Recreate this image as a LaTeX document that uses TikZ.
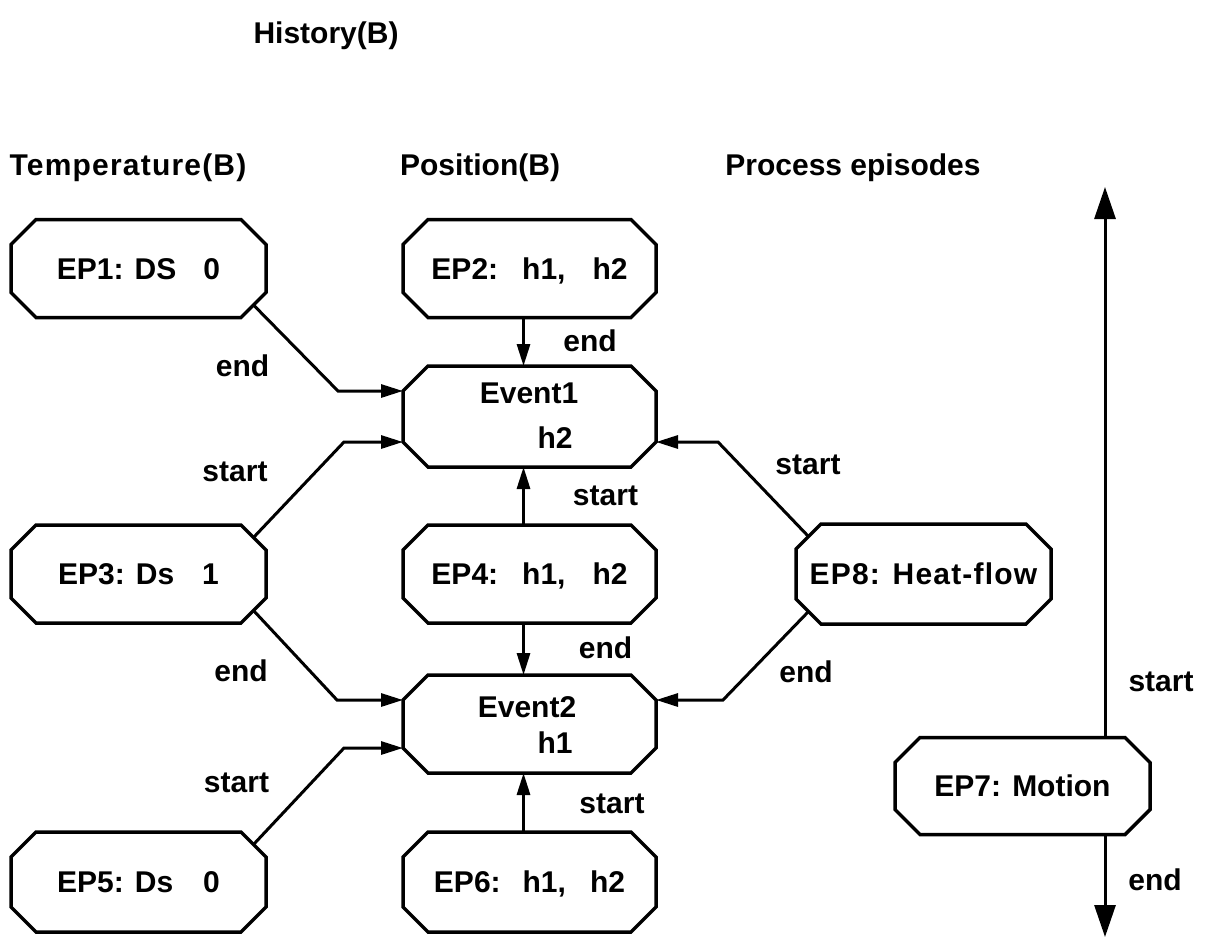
\documentclass[tikz,border=0pt]{standalone}
\usepackage{fontspec}
\setmainfont{Liberation Sans}
\newfontfamily\widefont{Liberation Sans}[LetterSpace=4]
\usetikzlibrary{arrows.meta,calc}
\newcommand\drawoct[1]{%
  \draw[boxline] ($(#1.north west)+(25,0)$) -- ($(#1.north east)+(-25,0)$)
    -- ($(#1.north east)+(0,25)$) -- ($(#1.south east)+(0,-25)$)
    -- ($(#1.south east)+(-25,0)$) -- ($(#1.south west)+(25,0)$)
    -- ($(#1.south west)+(0,-25)$) -- ($(#1.north west)+(0,25)$) -- cycle;}
\tikzset{
  txt/.style={font=\bfseries\fontsize{30}{36}\selectfont, inner sep=0pt, outer sep=0pt,
    text height=21.5pt, text depth=0pt},
  ebox/.style={txt, minimum width=255pt, minimum height=98pt},
  mbox/.style={txt, minimum width=253pt, minimum height=98pt},
  boxline/.style={line width=3.5pt, line join=miter},
  conn/.style={line width=3pt, -{Triangle[length=22pt,width=13pt]}},
  bigarrow/.style={line width=3pt, -{Triangle[length=32pt,width=21pt]}}
}
\begin{document}
\begin{tikzpicture}[x=1pt,y=-1pt]
\useasboundingbox (0,0) rectangle (1212,942);
% titles
\node[txt] (hist) at (326,33) {History(B)};
\node[txt] (ttemp) at (128,165) {\widefont Temperature(B)};
\node[txt] (tpos) at (480,165) {Position(B)};
\node[txt] (tproc) at (853,165) {Process episodes};
% boxes
\node[ebox] (ep1) at (138.5,268.5) {EP1: DS\hspace{27pt}0};
\node[mbox] (ep2) at (529.5,268.5) {EP2:\hspace{24pt}h1,\hspace{27pt}h2};
\node[mbox, minimum height=101pt] (ev1) at (529.5,416.5) {};
\node[ebox] (ep3) at (138.5,574) {EP3: Ds\hspace{28pt}1};
\node[mbox] (ep4) at (529.5,574) {EP4:\hspace{24pt}h1,\hspace{27pt}h2};
\node[mbox] (ev2) at (529.5,724) {};
\node[ebox, minimum height=100pt] (ep5) at (138.5,882) {EP5: Ds\hspace{30pt}0};
\node[mbox, minimum height=100pt] (ep6) at (529.5,882) {EP6:\hspace{22pt}h1,\hspace{24pt}h2};
\node[ebox, minimum height=100pt] (ep8) at (923.5,574) {\widefont EP8: Heat-flow};
\node[ebox, minimum height=97pt] (ep7) at (1022.5,786) {EP7: Motion};
% event texts
\node[txt] (ev1a) at (529,393) {Event1};
\node[txt] (ev1b) at (555,438) {h2};
\node[txt] (ev2a) at (527,707) {Event2};
\node[txt] (ev2b) at (555,743) {h1};
% octagon outlines
\foreach \n in {ep1,ep2,ev1,ep3,ep4,ev2,ep5,ep6,ep8,ep7} {\drawoct{\n}}
% corner points of the event boxes
\coordinate (ev1ul) at ($(ev1.north west)+(0,25)$);
\coordinate (ev1ll) at ($(ev1.south west)+(0,-25)$);
\coordinate (ev1lr) at ($(ev1.south east)+(0,-25)$);
\coordinate (ev2ul) at ($(ev2.north west)+(0,25)$);
\coordinate (ev2ll) at ($(ev2.south west)+(0,-25)$);
\coordinate (ev2ur) at ($(ev2.north east)+(0,25)$);
% connectors
\draw[conn] ($(ep1.south east)+(-12.5,-12.5)$) -- ($(ev1ul)+(-65,0)$) -- (ev1ul);
\draw[conn] ($(ep3.north east)+(-12.5,12.5)$) -- ($(ev1ll)+(-59,0)$) -- (ev1ll);
\draw[conn] ($(ep3.south east)+(-12.5,-12.5)$) -- ($(ev2ul)+(-66,0)$) -- (ev2ul);
\draw[conn] ($(ep5.north east)+(-12.5,12.5)$) -- ($(ev2ll)+(-59,0)$) -- (ev2ll);
\draw[conn] ($(ep8.north west)+(12.5,12.5)$) -- ($(ev1lr)+(62,0)$) -- (ev1lr);
\draw[conn] ($(ep8.south west)+(12.5,-12.5)$) -- ($(ev2ur)+(67,0)$) -- (ev2ur);
\draw[conn] ($(ep2.south)+(-6,0)$) -- ($(ev1.north)+(-6,0)$);
\draw[conn] ($(ep4.north)+(-6,0)$) -- ($(ev1.south)+(-6,0)$);
\draw[conn] ($(ep4.south)+(-6,0)$) -- ($(ev2.north)+(-6,0)$);
\draw[conn] ($(ep6.north)+(-6,0)$) -- ($(ev2.south)+(-6,0)$);
\coordinate (mtop) at (1105,187);
\coordinate (mbot) at (1105,937);
\draw[bigarrow] ($(ep7.north)+(82.5,0)$) -- (mtop);
\draw[bigarrow] ($(ep7.south)+(82.5,0)$) -- (mbot);
% connector labels
\node[txt] (l1) at (242.5,366) {end};
\node[txt] (l2) at (590,341) {end};
\node[txt] (l3) at (235,471) {start};
\node[txt] (l4) at (605.5,495) {start};
\node[txt] (l5) at (241,671) {end};
\node[txt] (l6) at (605.5,648) {end};
\node[txt] (l7) at (236.5,782) {start};
\node[txt] (l8) at (612,803) {start};
\node[txt] (l9) at (808,464) {start};
\node[txt] (l10) at (806,672) {end};
\node[txt] (l11) at (1161,681) {start};
\node[txt] (l12) at (1155,880) {end};
\end{tikzpicture}
\end{document}
